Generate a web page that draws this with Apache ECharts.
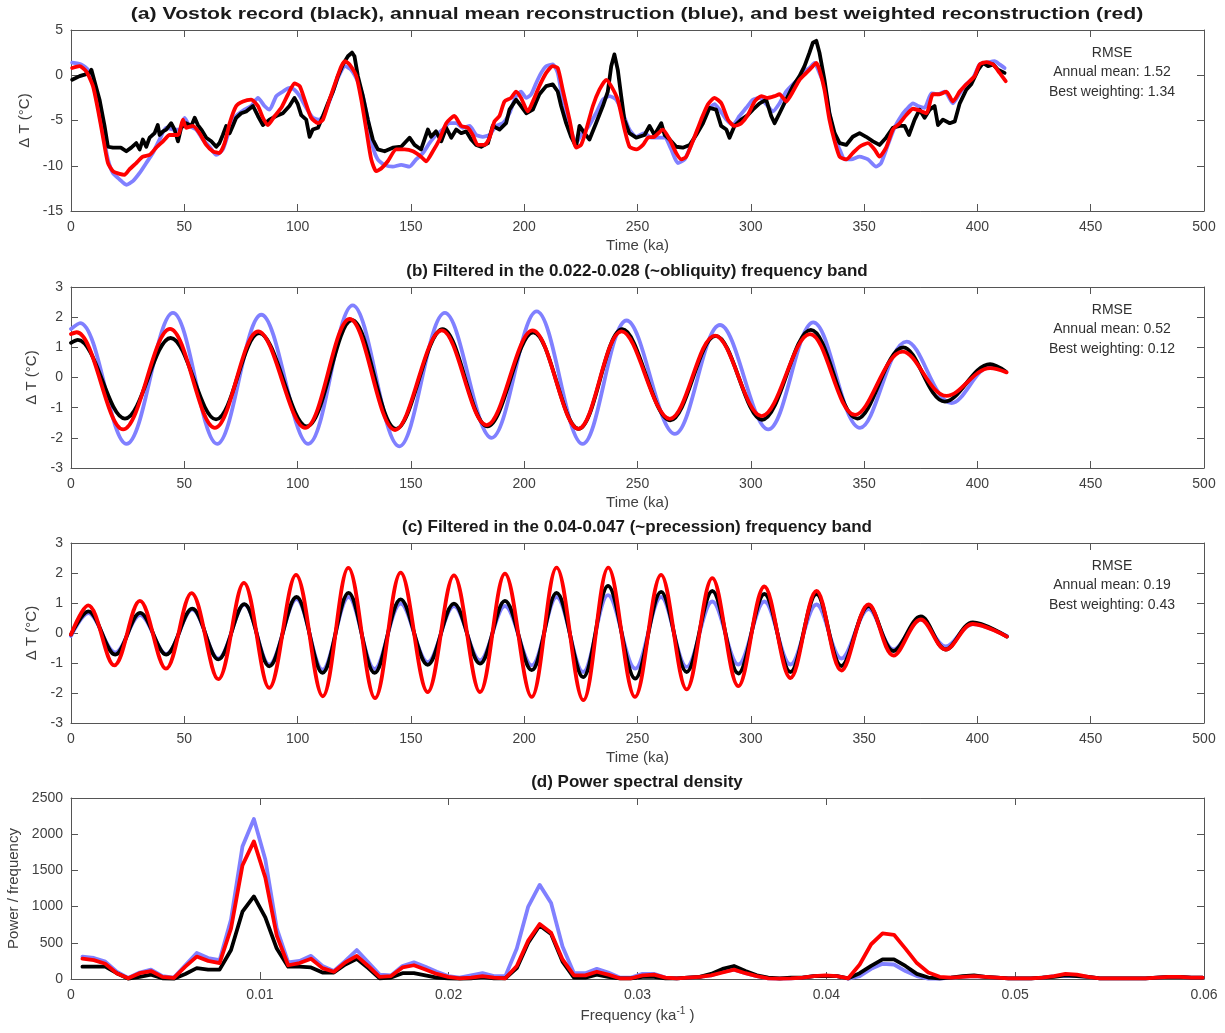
<!DOCTYPE html>
<html>
<head>
<meta charset="utf-8">
<title>Vostok reconstruction</title>
<script src="https://cdn.jsdelivr.net/npm/echarts@6/dist/echarts.min.js"></script>
<style>
  html, body { margin: 0; padding: 0; background: #fff; }
  #main { width: 1225px; height: 1033px; }
</style>
</head>
<body>
<div id="main"></div>
<script>
// ---- data ----
// (a) temperature anomaly, [time ka, dT]
var vostokA = [[0.5,-0.5],[3.8,-0.1],[6,0.07],[8.2,0.26],[9,0.6],[10.4,-0.7],[12.6,-2.7],[14.8,-5.6],[16.3,-7.9],[18.5,-8.0],[22,-8.0],[24.4,-8.4],[26.6,-8.0],[28.8,-7.5],[30.3,-8.2],[31.7,-7.1],[33.2,-7.9],[34.7,-6.9],[36.9,-6.4],[38.3,-5.5],[39.1,-6.6],[40.6,-6.2],[42,-6.0],[44.2,-5.3],[45.7,-6.0],[47.2,-7.3],[48.6,-5.8],[50.8,-5.3],[53.1,-5.6],[54.6,-4.7],[56,-5.5],[57.5,-6.0],[59.7,-6.9],[61.9,-7.3],[64.1,-7.9],[65.5,-7.5],[67,-6.6],[68.5,-5.6],[70,-6.4],[71.4,-5.6],[72.9,-4.7],[75.1,-4.2],[77.3,-4.0],[80.3,-3.4],[82.5,-4.5],[84.7,-5.5],[87.6,-4.9],[90.6,-4.5],[93.5,-4.2],[96.4,-3.4],[98.6,-2.5],[100.1,-3.2],[101.6,-4.4],[103.8,-4.9],[105.3,-6.8],[106.7,-6.0],[109,-5.8],[111.2,-4.5],[113.4,-3.1],[115.6,-1.8],[117.8,-0.1],[120,1.2],[122.2,2.1],[124,2.5],[125.1,2.1],[126.6,-0.1],[128.8,-2.3],[131,-4.9],[133.2,-7.1],[135.4,-8.2],[138.4,-8.4],[142,-8.0],[145.7,-7.9],[149.4,-6.9],[151.6,-7.7],[154.5,-8.2],[157.5,-6.0],[158.9,-6.8],[161.1,-6.2],[163.4,-7.3],[165.6,-5.8],[167.8,-6.9],[170,-6.0],[172.2,-6.4],[174.4,-6.2],[176.6,-7.1],[178.8,-7.7],[181,-7.9],[184,-7.5],[186.1,-5.6],[189.1,-6.0],[192,-5.3],[193.5,-3.8],[196.4,-2.7],[198.6,-3.4],[200.9,-4.2],[203.8,-3.8],[206.7,-2.1],[209.7,-1.2],[212.6,-1.0],[214.8,-1.8],[216.3,-3.4],[218.5,-5.3],[220.7,-6.8],[222.9,-7.9],[224.4,-5.6],[226.6,-6.4],[228.8,-7.1],[231.7,-5.3],[234.7,-3.4],[236.9,-1.8],[238.4,1.0],[239.8,2.3],[241.3,0.6],[242.8,-2.3],[244.2,-4.9],[246.4,-6.4],[249.4,-6.9],[253.1,-6.6],[255.3,-5.6],[257.5,-6.6],[260.5,-5.3],[262,-6.6],[264.2,-7.1],[267.1,-7.9],[270,-8.0],[273,-7.7],[275.9,-6.6],[278.9,-5.3],[281.8,-3.6],[284.7,-3.8],[286.9,-5.6],[289.2,-6.0],[290.6,-6.9],[292.8,-5.6],[295.8,-4.9],[298.7,-4.4],[300.9,-3.8],[303.9,-3.1],[306.8,-2.7],[309,-4.5],[310.5,-5.3],[312.7,-4.2],[315.6,-2.7],[318.6,-1.2],[321.5,-0.1],[323.7,1.0],[325.9,2.5],[327.4,3.6],[328.9,3.8],[330.3,2.5],[332.5,-0.5],[334.7,-4.2],[337,-6.4],[339.2,-7.5],[342.1,-7.7],[345,-6.8],[348,-6.4],[350.9,-6.8],[353.9,-7.3],[356.8,-7.7],[359.7,-6.9],[362.7,-5.8],[365.7,-5.6],[367.9,-5.6],[369.8,-6.6],[372.3,-4.9],[374.5,-3.8],[376.7,-4.7],[378.9,-3.8],[381.1,-3.4],[382.6,-5.5],[384.8,-4.9],[387.8,-5.3],[390,-5.1],[392.2,-3.1],[395.1,-1.6],[397.3,-1.0],[400.3,0.6],[402.5,1.37],[404.7,1.0],[406.9,1.2],[409.1,0.6],[412,0.26]];

var annualA = [[0.5,1.4],[4.5,1.2],[7.5,0.6],[9.7,-0.85],[11.9,-3.4],[14.1,-6.4],[16.3,-9.3],[18.5,-10.8],[21.4,-11.5],[24.4,-12.1],[27.3,-11.7],[30.3,-10.8],[33.2,-9.7],[36.1,-8.6],[39.1,-7.1],[42,-5.8],[45,-6.0],[47.9,-6.0],[50.1,-4.7],[52.3,-5.6],[55.3,-6.0],[58.2,-7.1],[61.2,-7.9],[64.1,-8.8],[67,-8.2],[70,-6.0],[72.9,-4.5],[76.6,-3.8],[79.5,-3.4],[82.5,-2.5],[85.4,-3.4],[87.6,-3.8],[90.6,-2.3],[93.5,-1.8],[96.4,-1.4],[98.6,-1.6],[100.9,-2.3],[103.8,-3.6],[106.7,-4.7],[109.7,-4.9],[111.9,-4.2],[114.9,-2.3],[117.8,-0.3],[121,1.0],[123.6,0.6],[126.6,-0.7],[128.8,-2.3],[131,-4.9],[133.2,-7.9],[135.4,-9.3],[138.4,-9.9],[142,-10.1],[145.7,-9.9],[149.4,-10.1],[152.3,-9.3],[155.3,-8.6],[158.2,-7.5],[161.1,-6.6],[164.1,-6.0],[167,-5.3],[170,-5.3],[172.9,-5.8],[175.9,-5.6],[178.8,-6.6],[181.7,-6.8],[184.7,-6.6],[187.6,-5.6],[190.6,-5.3],[193.5,-4.2],[196.4,-2.3],[198.6,-1.8],[200.9,-2.5],[203.1,-2.1],[205.3,-0.85],[207.5,0.26],[209.7,1.0],[212.6,1.2],[214.8,0.26],[217,-2.7],[220,-5.6],[222.9,-7.5],[225.1,-6.6],[228,-5.8],[231.7,-4.2],[234.7,-2.7],[237.6,-2.3],[240.6,-2.7],[243.5,-4.2],[246.4,-6.0],[249.4,-6.8],[253.1,-6.4],[256.1,-6.9],[259,-6.9],[262,-6.9],[264.9,-8.2],[267.8,-9.7],[270.8,-9.3],[273.7,-7.7],[277.4,-5.6],[281.1,-3.8],[284,-3.2],[286.2,-3.8],[289.2,-4.9],[292.1,-5.5],[295,-4.5],[298,-3.6],[300.9,-2.7],[303.9,-2.5],[306.8,-3.2],[309.7,-4.0],[312.7,-3.1],[315.6,-1.8],[318.6,-1.0],[321.5,-0.3],[323.7,0.44],[325.9,0.8],[328.1,1.37],[330.3,0.26],[332.5,-1.2],[334.7,-4.2],[337,-6.9],[339.2,-8.2],[341.4,-9.3],[344.3,-9.3],[348,-9.0],[351.7,-9.3],[355.3,-10.1],[357.5,-9.7],[360.5,-7.7],[363.4,-5.8],[366.4,-4.5],[368.6,-3.8],[371.6,-3.1],[373.8,-3.4],[376.7,-3.6],[379.7,-2.0],[382.6,-2.1],[385.6,-1.8],[389.2,-3.1],[392.2,-2.0],[395.1,-1.0],[398.1,-0.3],[401,1.2],[404,1.37],[407.6,1.55],[409.8,1.2],[412,0.8]];

var bestA = [[0.5,0.8],[3.8,1.0],[6.7,0.44],[9.7,-1.2],[11.9,-3.8],[14.1,-6.8],[16.3,-9.7],[18.5,-10.6],[21.4,-10.9],[23.6,-11.0],[25.8,-10.4],[28.8,-9.7],[31.7,-9.0],[34.7,-8.8],[37.6,-8.0],[40.6,-7.3],[43.5,-6.6],[47.2,-6.6],[49.4,-4.9],[50.8,-5.8],[53.8,-5.6],[56.7,-6.4],[59.7,-7.7],[62.6,-8.4],[65.5,-8.6],[67.8,-7.5],[70,-5.3],[72.9,-3.4],[75.9,-2.9],[79.5,-2.7],[82.5,-3.4],[84.7,-4.7],[86.9,-5.5],[89.9,-4.5],[92.8,-3.6],[95.8,-2.1],[98.6,-0.9],[100.9,-1.2],[103.1,-2.7],[106,-4.7],[109,-5.3],[111.2,-4.9],[114.1,-2.7],[117.1,-0.5],[119.3,1.0],[121,1.55],[122.9,1.2],[125.9,-0.1],[128.1,-2.7],[130.3,-6.0],[132.5,-9.3],[134.7,-10.6],[136.9,-10.3],[139.8,-9.5],[143.5,-8.2],[147.2,-8.2],[150.9,-8.4],[154.5,-9.0],[156.7,-9.5],[159.7,-8.4],[162.6,-7.1],[165.6,-5.3],[169.2,-4.5],[172.2,-5.6],[175.1,-5.8],[177.3,-6.6],[179.5,-7.7],[182.5,-7.7],[184.7,-6.9],[186.9,-5.1],[189.1,-4.5],[191.3,-2.9],[194.2,-2.5],[196.4,-1.8],[198.6,-2.5],[201.6,-4.0],[203.8,-2.9],[206.7,-1.2],[209.7,0.26],[212.6,1.0],[214.8,0.8],[217,-1.6],[220,-4.9],[222.9,-8.0],[225.1,-7.7],[227.4,-6.0],[230.3,-3.4],[233.2,-1.6],[236.2,-0.5],[238.4,-1.2],[241.3,-2.7],[244.3,-6.0],[246.5,-7.9],[249.5,-8.2],[252.4,-7.7],[254.6,-6.9],[257.5,-6.8],[261.2,-6.0],[264.2,-7.1],[267.1,-8.6],[269.3,-9.3],[271.5,-9.0],[274.4,-7.3],[278.1,-4.9],[281.1,-3.2],[284,-2.5],[287,-3.1],[289.9,-4.9],[292.8,-5.6],[295.8,-5.3],[298.7,-4.4],[301.7,-2.9],[304.6,-2.3],[307.5,-2.5],[310.5,-2.3],[312.7,-2.1],[315.6,-2.9],[318.6,-1.8],[321.5,-0.5],[324.5,0.26],[327.4,1.0],[328.9,1.37],[330.3,0.6],[332.5,-1.6],[334.7,-4.9],[337,-7.3],[339.2,-9.0],[342.1,-9.3],[345,-8.6],[348,-7.9],[351.7,-7.5],[354.6,-8.2],[356.8,-9.0],[359.7,-8.0],[362.7,-6.0],[365.7,-5.3],[368.6,-4.4],[371.6,-3.7],[374.5,-3.9],[377.5,-4.2],[380.4,-2.1],[383.3,-2.1],[386.3,-1.8],[389.2,-2.9],[392.2,-1.8],[395.1,-1.0],[398.8,-0.1],[401,1.2],[404,1.44],[406.9,1.2],[409.8,0.26],[412.5,-0.66]];

// (b) obliquity band, turning points
var vostokB = [[0,1.15],[3,1.25],[23.8,-1.36],[44,1.31],[64,-1.39],[83,1.47],[104,-1.62],[124,1.9],[143.5,-1.7],[164,1.6],[183.8,-1.62],[204,1.5],[224,-1.7],[243.3,1.6],[264.5,-1.42],[284.5,1.38],[305,-1.4],[326.5,1.58],[347,-1.36],[367.3,1.0],[385.7,-0.8],[405.6,0.44],[412.5,0.2]];
var annualB = [[0,1.61],[4,1.8],[24.5,-2.2],[45,2.14],[64.5,-2.2],[84,2.08],[104.7,-2.2],[124.3,2.39],[144.9,-2.28],[165,2.14],[185.6,-2.0],[205.5,2.19],[225.8,-2.2],[245.2,1.89],[266.5,-1.87],[286.4,1.74],[307.7,-1.72],[327.6,1.83],[348.2,-1.67],[368.8,1.19],[388.6,-0.85],[406,0.38],[412,0.22]];
var bestB = [[0,1.44],[2.5,1.5],[23,-1.72],[43.7,1.61],[63.5,-1.67],[82.6,1.53],[103.3,-1.67],[123,1.94],[143,-1.74],[163.6,1.56],[183.4,-1.58],[203.7,1.56],[223.9,-1.7],[243,1.53],[264.3,-1.37],[284.2,1.39],[304.8,-1.28],[326.1,1.44],[346,-1.24],[367,0.86],[386.4,-0.61],[405.6,0.31],[412.9,0.17]];

// (c) precession band, turning points
var vostokC = [[0,-0.05],[7.6,0.72],[19.5,-0.72],[30.5,0.67],[42,-0.72],[53.5,0.81],[65,-0.88],[76.5,0.96],[87.5,-1.11],[99.5,1.2],[111,-1.33],[122.5,1.34],[134,-1.33],[145.5,1.12],[157.4,-1.06],[169,0.98],[180.5,-1.02],[191.5,1.07],[203.3,-1.24],[214.3,1.34],[226,-1.47],[237,1.57],[249,-1.52],[260.4,1.37],[271.7,-1.3],[283,1.4],[294.5,-1.35],[306,1.3],[317.5,-1.3],[329,1.3],[340,-1.1],[352,0.9],[363,-0.6],[375,0.55],[386,-0.55],[398,0.35],[413,-0.12]];
var annualC = [[0,-0.1],[7.6,0.66],[19.5,-0.65],[30.5,0.6],[42,-0.7],[53.5,0.78],[65,-0.85],[76.5,0.95],[87.5,-1.05],[99.5,1.13],[111,-1.22],[122.5,1.2],[134,-1.2],[145.5,0.98],[157.4,-0.97],[169,0.9],[180.5,-0.91],[191.5,0.9],[203.3,-1.08],[214.3,1.2],[226,-1.3],[237,1.26],[249,-1.19],[260.4,1.2],[271.7,-1.13],[283,1.05],[294.5,-1.05],[306,1.05],[317.5,-1.05],[329,0.95],[340,-0.85],[352,0.8],[363,-0.55],[375,0.45],[386,-0.45],[398,0.3],[413,-0.1]];
var bestC = [[0,-0.05],[7.6,0.92],[19.1,-1.08],[30.4,1.07],[41.9,-1.19],[53.2,1.33],[65,-1.54],[76.3,1.67],[87.5,-1.83],[99.3,1.94],[111.1,-2.11],[122.4,2.17],[134.2,-2.17],[145.5,2.01],[157.4,-1.97],[169,1.92],[180.5,-1.97],[191.5,1.98],[203.3,-2.13],[214.3,2.18],[226.1,-2.24],[237.1,2.18],[248.9,-2.13],[260.4,1.94],[271.7,-1.88],[283,1.83],[294.5,-1.77],[306,1.55],[317.5,-1.5],[329,1.4],[340,-1.25],[352,0.95],[363,-0.75],[375,0.45],[386,-0.55],[398,0.3],[413,-0.12]];

// (d) power spectral density, one value per frequency bin (bin width 1/1652 ka^-1)
var psdVostok = [170,170,170,80,5,30,60,10,5,70, 150,130,130,400,930,1140,850,420,170,170, 160,90,90,200,280,150,10,20,80,80, 50,20,10,5,10,30,10,10,150,500, 740,620,240,20,20,60,30,10, 10,30,30,10,10,20,30,70,140,180, 110,50,20,10,20,20,40,40,40, 10,80,180,270,270,180,70,20,10, 20,40,50,30,20,10,10,10,20,30,50,40,30,10,10,10,10,10,20,30,30,20,20];
var psdAnnual = [310,290,240,100,15,90,130,40,20,190, 360,290,260,820,1830,2210,1650,700,230,250, 320,180,110,250,400,230,60,50,180,230, 170,100,40,20,50,80,40,40,420,1000, 1300,1050,450,80,80,140,90,20, 20,70,70,20,10,20,30,50,100,130, 80,40,10,5,10,20,40,40,40, 5,40,140,210,200,110,40,5,5, 20,30,40,30,20,10,10,10,20,40,40,40,30,10,10,10,10,10,20,30,30,20,20];
var psdBest = [280,260,210,80,10,80,110,30,15,170, 310,250,220,700,1570,1900,1400,600,190,220, 280,150,100,230,320,180,30,40,160,190, 130,70,30,10,20,40,20,10,180,530, 760,640,270,50,50,100,60,10, 10,50,60,20,10,20,30,50,90,130, 80,40,10,5,10,20,40,50,40, 10,200,480,630,610,420,220,90,30, 20,30,40,30,20,10,10,10,20,40,70,60,30,10,10,10,10,10,20,30,30,20,20];
var binWidth = 1 / 1652;

var titles = [
  '(a) Vostok record (black), annual mean reconstruction (blue), and best weighted reconstruction (red)',
  '(b) Filtered in the 0.022-0.028 (~obliquity) frequency band',
  '(c) Filtered in the 0.04-0.047 (~precession) frequency band',
  '(d) Power spectral density'
];
var rmseAnnual = ['1.52', '0.52', '0.19'];
var rmseBest = ['1.34', '0.12', '0.43'];

// ---- style ----
var FONT = '"Liberation Sans", Arial, Helvetica, sans-serif';
var BLUE = '#8080ff', RED = '#ff0000', BLACK = '#000000';
var LINE_C = '#555555', TEXT_C = '#404040';

var gridBoxes = [
  { top: 30, height: 181 },
  { top: 287, height: 181 },
  { top: 543, height: 180 },
  { top: 798, height: 181 }
];
// the first title is drawn wider in the source figure
var titleStretch = [1.25, 1, 1, 1];

function makeX(i, min, max, interval, name, fmt) {
  var common = {
    gridIndex: i, type: 'value', min: min, max: max, interval: interval,
    axisLine: { show: true, onZero: false, lineStyle: { color: LINE_C, width: 1 } },
    axisTick: { show: true, inside: true, length: 7, lineStyle: { color: LINE_C } },
    splitLine: { show: false }
  };
  var bottom = Object.assign({}, common, {
    position: 'bottom',
    name: name, nameLocation: 'middle', nameGap: 27,
    nameTextStyle: { color: TEXT_C, fontSize: 15, fontFamily: FONT,
      rich: { sup: { fontSize: 10, color: TEXT_C, fontFamily: FONT, padding: [0, 0, 9, 0] } } },
    axisLabel: { color: TEXT_C, fontSize: 14, fontFamily: FONT, margin: 9, formatter: fmt }
  });
  var top = Object.assign({}, common, { position: 'top', axisLabel: { show: false } });
  return [bottom, top];
}

function makeY(i, min, max, interval, name, gap) {
  var common = {
    gridIndex: i, type: 'value', min: min, max: max, interval: interval,
    axisLine: { show: true, onZero: false, lineStyle: { color: LINE_C, width: 1 } },
    axisTick: { show: true, inside: true, length: 7, lineStyle: { color: LINE_C } },
    splitLine: { show: false }
  };
  var left = Object.assign({}, common, {
    position: 'left',
    name: name, nameLocation: 'middle', nameGap: gap,
    nameTextStyle: { color: TEXT_C, fontSize: 15, fontFamily: FONT },
    axisLabel: { color: TEXT_C, fontSize: 14, fontFamily: FONT, margin: 8,
      formatter: function (v) { return String(v); } }
  });
  var right = Object.assign({}, common, { position: 'right', axisLabel: { show: false } });
  return [left, right];
}

function line(i, data, color, z, smooth) {
  return {
    type: 'line', xAxisIndex: 2 * i, yAxisIndex: 2 * i,
    data: data, showSymbol: false, symbol: 'none', smooth: smooth, z: z,
    lineStyle: { color: color, width: 3.8, join: 'round', cap: 'round' },
    animation: false, silent: true
  };
}

var freqFmt = function (v) { return v === 0 ? '0' : v.toFixed(2); };
var xAxes = [].concat(
  makeX(0, 0, 500, 50, 'Time (ka)'),
  makeX(1, 0, 500, 50, 'Time (ka)'),
  makeX(2, 0, 500, 50, 'Time (ka)'),
  makeX(3, 0, 0.06, 0.01, 'Frequency (ka{sup|-1} )', freqFmt)
);
var yAxes = [].concat(
  makeY(0, -15, 5, 5, '\u0394 T (\u00B0C)', 30),
  makeY(1, -3, 3, 1, '\u0394 T (\u00B0C)', 30),
  makeY(2, -3, 3, 1, '\u0394 T (\u00B0C)', 30),
  makeY(3, 0, 2500, 500, 'Power / frequency', 50)
);

function psdPairs(vals) {
  return vals.map(function (v, k) { return [(k + 1) * binWidth, v]; });
}

var series = [
  line(0, annualA, BLUE, 2, 0.2), line(0, vostokA, BLACK, 3, false), line(0, bestA, RED, 4, 0.2),
  line(1, annualB, BLUE, 2, 0.36), line(1, vostokB, BLACK, 3, 0.36), line(1, bestB, RED, 4, 0.36),
  line(2, annualC, BLUE, 2, 0.36), line(2, vostokC, BLACK, 3, 0.36), line(2, bestC, RED, 4, 0.36),
  line(3, psdPairs(psdAnnual), BLUE, 2, false), line(3, psdPairs(psdVostok), BLACK, 3, false), line(3, psdPairs(psdBest), RED, 4, false)
];

// titles and RMSE boxes
var graphics = [];
gridBoxes.forEach(function (g, i) {
  graphics.push({
    type: 'text', x: 637, y: g.top - 16, scaleX: titleStretch[i],
    style: { text: titles[i], font: 'bold 17px ' + FONT, fill: '#1a1a1a',
      textAlign: 'center', textVerticalAlign: 'middle' }
  });
  if (i < 3) {
    var lines = ['RMSE', 'Annual mean: ' + rmseAnnual[i], 'Best weighting: ' + rmseBest[i]];
    lines.forEach(function (t, j) {
      graphics.push({
        type: 'text', x: 1112, y: g.top + 23 + j * 19.5,
        style: { text: t, font: '14px ' + FONT, fill: '#303030',
          textAlign: 'center', textVerticalAlign: 'middle' }
      });
    });
  }
});

var chart = echarts.init(document.getElementById('main'), null, { renderer: 'canvas' });
chart.setOption({
  backgroundColor: '#ffffff',
  animation: false,
  grid: gridBoxes.map(function (g) {
    return { left: 71, right: 21, top: g.top, height: g.height, containLabel: false, outerBoundsMode: 'none' };
  }),
  xAxis: xAxes,
  yAxis: yAxes,
  series: series,
  graphic: graphics
});
</script>
</body>
</html>
